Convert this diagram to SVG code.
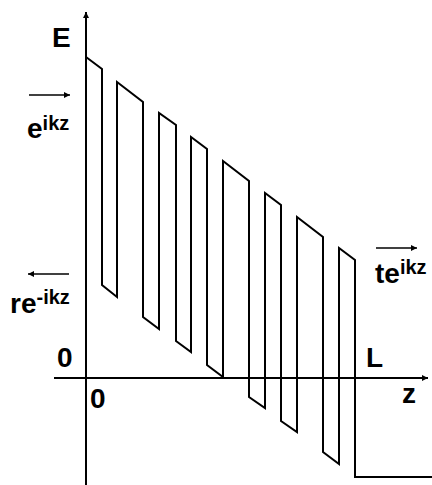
<svg xmlns="http://www.w3.org/2000/svg" width="432" height="485" viewBox="0 0 432 485">
  <defs>
    <marker id="ah" viewBox="0 0 10 10" refX="10" refY="5" markerWidth="10" markerHeight="6" markerUnits="userSpaceOnUse" orient="auto">
      <path d="M0,0 L10,5 L0,10 z" fill="#000"/>
    </marker>
    <style>
      .ln { fill: none; stroke: #000; stroke-width: 2; stroke-linejoin: miter; }
      .ar { fill: none; stroke: #000; stroke-width: 1.6; }
      .t { font-family: "Liberation Sans", Arial, sans-serif; font-weight: bold; fill: #000; }
      .big { font-size: 28px; }
      .sup { font-size: 20px; }
    </style>
  </defs>
  <rect width="432" height="485" fill="#fff"/>
  <g id="connectors">
    <line id="y-axis" class="ln" x1="86" y1="485" x2="86" y2="12" marker-end="url(#ah)"/>
    <line id="x-axis" class="ln" x1="54" y1="378" x2="428" y2="378" marker-end="url(#ah)"/>
    <path id="potential" class="ln" d="M86,57 L102,69 L102,285 L117,297 L117,82 L143,102 L143,317 L159,329 L159,113 L176,125 L176,341 L191,352 L191,137 L207,149 L207,365 L223,377 L223,161 L249,181 L249,397 L265,408 L265,193 L281,205 L281,421 L297,432 L297,217 L323,237 L323,452 L339,464 L339,248 L355,260 L355,477 L432,477"/>
    <line id="arrow-in" class="ar" x1="29" y1="95" x2="70" y2="95" marker-end="url(#ah)"/>
    <line id="arrow-refl" class="ar" x1="69" y1="274" x2="28" y2="274" marker-end="url(#ah)"/>
    <line id="arrow-trans" class="ar" x1="376" y1="248" x2="417" y2="248" marker-end="url(#ah)"/>
  </g>
  <g id="label-E"><text class="t big" x="52" y="47">E</text></g>
  <g id="label-incident"><text class="t big" x="27" y="138">e<tspan class="sup" dy="-8">ikz</tspan></text></g>
  <g id="label-reflected"><text class="t big" x="10" y="313">re<tspan class="sup" dy="-9">-ikz</tspan></text></g>
  <g id="label-transmitted"><text class="t big" x="375" y="283">te<tspan class="sup" dy="-9">ikz</tspan></text></g>
  <g id="label-0y"><text class="t big" x="57" y="367">0</text></g>
  <g id="label-0x"><text class="t big" x="90" y="408">0</text></g>
  <g id="label-L"><text class="t big" x="366" y="367">L</text></g>
  <g id="label-z"><text class="t big" x="402" y="403">z</text></g>
</svg>
